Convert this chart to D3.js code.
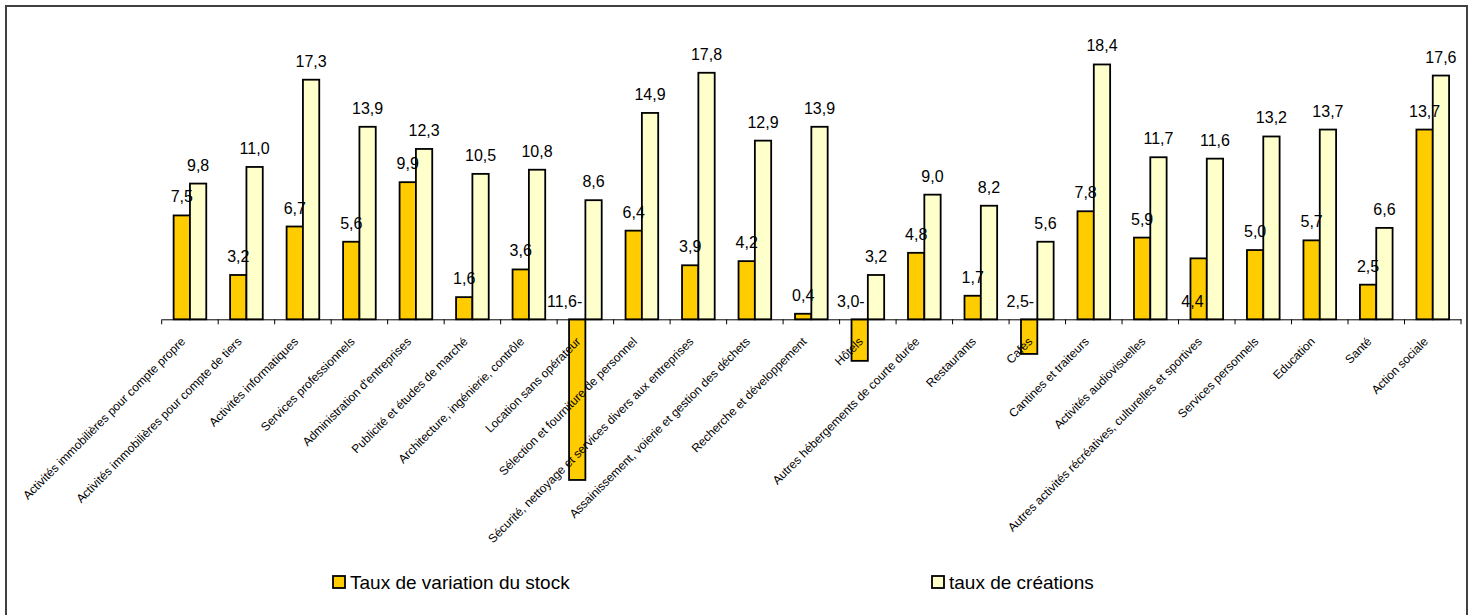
<!DOCTYPE html>
<html>
<head>
<meta charset="utf-8">
<script src="https://cdn.jsdelivr.net/npm/d3@7"></script>
<style>
  body { margin: 0; background: #fff; }
  text { font-family: "Liberation Sans", Arial, sans-serif; fill: #000; }
</style>
</head>
<body>
<svg id="chart" width="1475" height="615"></svg>
<script>
// categories and the two series
const categories = [
  "Activités immobilières pour compte propre",
  "Activités immobilières pour compte de tiers",
  "Activités informatiques",
  "Services professionnels",
  "Administration d'entreprises",
  "Publicité et études de marché",
  "Architecture, ingénierie, contrôle",
  "Location sans opérateur",
  "Sélection et fourniture de personnel",
  "Sécurité, nettoyage et services divers aux entreprises",
  "Assainissement, voierie et gestion des déchets",
  "Recherche et développement",
  "Hôtels",
  "Autres hébergements de courte durée",
  "Restaurants",
  "Cafés",
  "Cantines et traiteurs",
  "Activités audiovisuelles",
  "Autres activités récréatives, culturelles et sportives",
  "Services personnels",
  "Education",
  "Santé",
  "Action sociale"
]
const stock = [7.5, 3.2, 6.7, 5.6, 9.9, 1.6, 3.6, -11.6, 6.4, 3.9, 4.2, 0.4, -3.0, 4.8, 1.7, -2.5, 7.8, 5.9, 4.4, 5.0, 5.7, 2.5, 13.7]
const creations = [9.8, 11.0, 17.3, 13.9, 12.3, 10.5, 10.8, 8.6, 14.9, 17.8, 12.9, 13.9, 3.2, 9.0, 8.2, 5.6, 18.4, 11.7, 11.6, 13.2, 13.7, 6.6, 17.6]
const seriesNames = ["Taux de variation du stock", "taux de créations"]
// the stock label of this category sits on the axis, as in the source
const labelOnAxis = ["Autres activités récréatives, culturelles et sportives"]

let svg = d3.select("#chart"),
  colors = ["#FFCC00", "#FFFFCC"],
  fmt = v => Math.abs(v).toFixed(1).replace(".", ",") + (v < 0 ? "-" : "")

let rows = categories.map((c, i) => ({ cat: c, vals: [stock[i], creations[i]] }))

let x0 = d3.scaleBand()
  .domain(categories)
  .range([161.7, 1461])
let bw = x0.bandwidth()
let x1 = d3.scaleBand()
  .domain([0, 1])
  .range([bw * 0.211, bw * 0.789])
let y = d3.scaleLinear()
  .domain([-12, 20])
  .range([485.5, 42.3])

// frame
svg.append("rect")
  .attr("x", 6).attr("y", 6)
  .attr("width", 1461).attr("height", 640)
  .attr("fill", "none")
  .attr("stroke", "#404040")
  .attr("stroke-width", 2)

// bars
let groups = svg.append("g").selectAll("g")
  .data(rows).enter()
  .append("g")
  .attr("transform", d => `translate(${x0(d.cat)},0)`)

groups.selectAll("rect")
  .data(d => d.vals.map((v, k) => ({ v, k })))
  .enter().append("rect")
  .attr("x", d => x1(d.k))
  .attr("width", x1.bandwidth())
  .attr("y", d => y(Math.max(0, d.v)))
  .attr("height", d => Math.abs(y(d.v) - y(0)))
  .attr("fill", d => colors[d.k])
  .attr("stroke", "#000")
  .attr("stroke-width", 1.8)

// axis with ticks at band boundaries
let axisG = svg.append("g")
  .attr("transform", `translate(0,${y(0)})`)
axisG.call(d3.axisBottom(x0).tickSize(0).tickFormat(""))
axisG.select(".domain").attr("stroke", "#000").attr("stroke-width", 1)
axisG.selectAll(".bound")
  .data(d3.range(categories.length + 1))
  .enter().append("line")
  .attr("x1", i => x0.range()[0] + i * x0.step())
  .attr("x2", i => x0.range()[0] + i * x0.step())
  .attr("y1", 0).attr("y2", 5)
  .attr("stroke", "#000")

// value labels
groups.selectAll("text.val")
  .data(d => d.vals.map((v, k) => ({ v, k, cat: d.cat })))
  .enter().append("text")
  .attr("class", "val")
  .style("font-size", "16px")
  .each(function(d) {
    let t = d3.select(this), cx = x1(d.k) + x1.bandwidth() / 2
    if (d.v < 0 || (d.k === 0 && labelOnAxis.includes(d.cat))) {
      t.attr("x", cx + 5).attr("y", y(0) - 12).attr("text-anchor", "end")
    } else {
      t.attr("x", cx).attr("y", y(d.v) - 13).attr("text-anchor", "middle")
    }
  })
  .text(d => fmt(d.v))

// category labels
svg.append("g").selectAll("text")
  .data(categories).enter()
  .append("text")
  .attr("transform", d => `translate(${x0(d) + bw / 2 - 4},${y(0) + 23}) rotate(-45)`)
  .attr("text-anchor", "end")
  .style("font-size", "12px")
  .text(d => d)

// legend
let legendX = [333, 932]
let leg = svg.append("g").selectAll("g")
  .data(seriesNames).enter()
  .append("g")
  .attr("transform", (d, i) => `translate(${legendX[i]},576)`)
leg.append("rect")
  .attr("width", 12).attr("height", 12)
  .attr("fill", (d, i) => colors[i])
  .attr("stroke", "#000").attr("stroke-width", 1.8)
leg.append("text")
  .attr("x", 17).attr("y", 13)
  .style("font-size", "19px")
  .text(d => d)
</script>
</body>
</html>
